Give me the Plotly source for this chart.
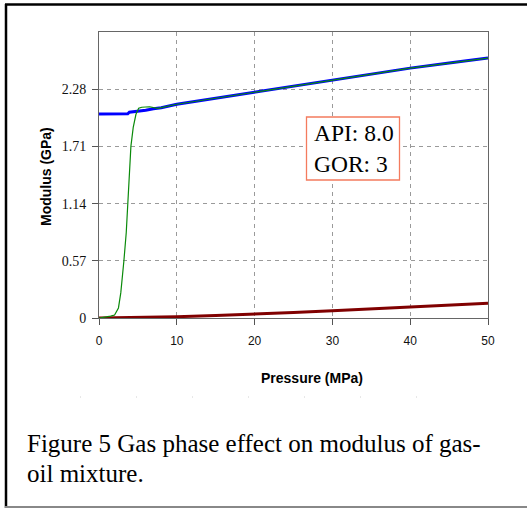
import plotly.graph_objects as go

# ---- data ----
blue_p = [0, 1, 2, 3, 3.7, 3.9, 5, 6, 7, 8, 10, 15, 20, 25, 30, 35, 40, 45, 50]
blue_m = [2.033, 2.033, 2.033, 2.033, 2.035, 2.05, 2.057, 2.07, 2.085, 2.095, 2.13, 2.19, 2.25,
          2.31, 2.37, 2.43, 2.49, 2.54, 2.59]

green_p = [0, 1, 1.5, 2.0, 2.5, 2.8, 3.0, 3.2, 3.5, 3.73, 4.1, 4.4, 4.75, 5.1, 5.5, 6.5, 7.5, 8,
           10, 15, 20, 25, 30, 35, 40, 45, 50]
green_m = [0, 0.01, 0.018, 0.03, 0.1, 0.25, 0.4, 0.57, 0.85, 1.14, 1.71, 1.9, 2.03, 2.09, 2.1,
           2.105, 2.09, 2.097, 2.13, 2.19, 2.25, 2.31, 2.37, 2.43, 2.49, 2.54, 2.59]

red_p = [0, 5, 10, 15, 20, 25, 30, 35, 40, 45, 50]
red_m = [0, 0.004, 0.013, 0.024, 0.037, 0.054, 0.073, 0.09, 0.106, 0.126, 0.146]

x_ticks = [0, 10, 20, 30, 40, 50]
y_ticks = [0, 0.57, 1.14, 1.71, 2.28]
y_tick_text = ["0", "0.57", "1.14", "1.71", "2.28"]

x_title = "Pressure (MPa)"
y_title = "Modulus (GPa)"
box_text = "API: 8.0<br>GOR: 3"
caption_lines = ["Figure 5 Gas phase effect on modulus of gas-", "oil mixture."]

# ---- layout geometry (pixels) ----
W, H = 527, 508
L, R, T, B = 99, 488, 32, 318


def px2x(px):
    return (px - L) / (R - L)


def py2y(py):
    return (B - py) / (B - T)


fig = go.Figure()
fig.add_trace(go.Scatter(x=red_p, y=red_m, mode="lines",
                         line=dict(color="#800000", width=3), showlegend=False))
fig.add_trace(go.Scatter(x=blue_p, y=blue_m, mode="lines",
                         line=dict(color="#0000FF", width=3), showlegend=False))
fig.add_trace(go.Scatter(x=green_p, y=green_m, mode="lines",
                         line=dict(color="#0A8A0A", width=1.2), showlegend=False))

grid = dict(showgrid=True, gridcolor="#9A9A9A", griddash="4px,4px", gridwidth=1)

serif = "Liberation Serif, Times New Roman"
sans = "Liberation Sans, Arial"

annotations = [
    dict(text=x_title, xref="paper", yref="paper", x=px2x(312), y=py2y(378),
         xanchor="center", yanchor="middle", showarrow=False,
         font=dict(family=sans, size=14, color="black", weight="bold")),
    dict(text=y_title, xref="paper", yref="paper", x=px2x(46), y=py2y(177),
         xanchor="center", yanchor="middle", showarrow=False, textangle=-90,
         font=dict(family=sans, size=14, color="black", weight="bold")),
    dict(text=box_text, xref="paper", yref="paper", x=px2x(312), y=py2y(148.5),
         xanchor="left", yanchor="middle", showarrow=False, align="left",
         font=dict(family=serif, size=23.5, color="black")),
]
for i, line in enumerate(caption_lines):
    annotations.append(
        dict(text=line, xref="paper", yref="paper", x=px2x(25), y=py2y(428 + 30 * i),
             xanchor="left", yanchor="top", showarrow=False, align="left",
             font=dict(family=serif, size=25, color="black")))

fig.update_layout(
    width=W, height=H,
    margin=dict(l=L, r=W - R, t=T, b=H - B),
    paper_bgcolor="white", plot_bgcolor="white",
    xaxis=dict(range=[0, 50], tickvals=x_ticks, ticks="outside", ticklen=6,
               tickcolor="#555", ticklabelstandoff=6,
               showline=True, linecolor="#666", linewidth=1, mirror=True,
               zeroline=False,
               tickfont=dict(family=sans, size=12, color="#111"),
               **grid),
    yaxis=dict(range=[0, 2.85], tickvals=y_ticks, ticktext=y_tick_text,
               ticks="outside", ticklen=6, tickcolor="#555", ticklabelstandoff=3,
               showline=True, linecolor="#666", linewidth=1, mirror=True,
               zeroline=False,
               tickfont=dict(family=serif, size=14, color="#111"),
               **grid),
    shapes=[
        # API/GOR box
        dict(type="rect", xref="paper", yref="paper", x0=px2x(306.5), x1=px2x(399.5),
             y0=py2y(117), y1=py2y(180), fillcolor="white",
             line=dict(color="#F47B5E", width=1.3), layer="above"),
        # outer frame
        dict(type="line", xref="paper", yref="paper", x0=px2x(6), x1=px2x(6),
             y0=py2y(4), y1=py2y(508), line=dict(color="black", width=2.5)),
        dict(type="line", xref="paper", yref="paper", x0=px2x(5), x1=px2x(530),
             y0=py2y(4.5), y1=py2y(4.5), line=dict(color="black", width=2.5)),
        dict(type="line", xref="paper", yref="paper", x0=px2x(5), x1=px2x(530),
             y0=py2y(507), y1=py2y(507), line=dict(color="#888", width=2)),
        dict(type="line", xref="paper", yref="paper", x0=px2x(80), x1=px2x(470),
             y0=py2y(397), y1=py2y(397),
             line=dict(color="#D0D0D0", width=1, dash="1px,55px")),
    ],
    annotations=annotations,
)

fig.write_html("out.html")
